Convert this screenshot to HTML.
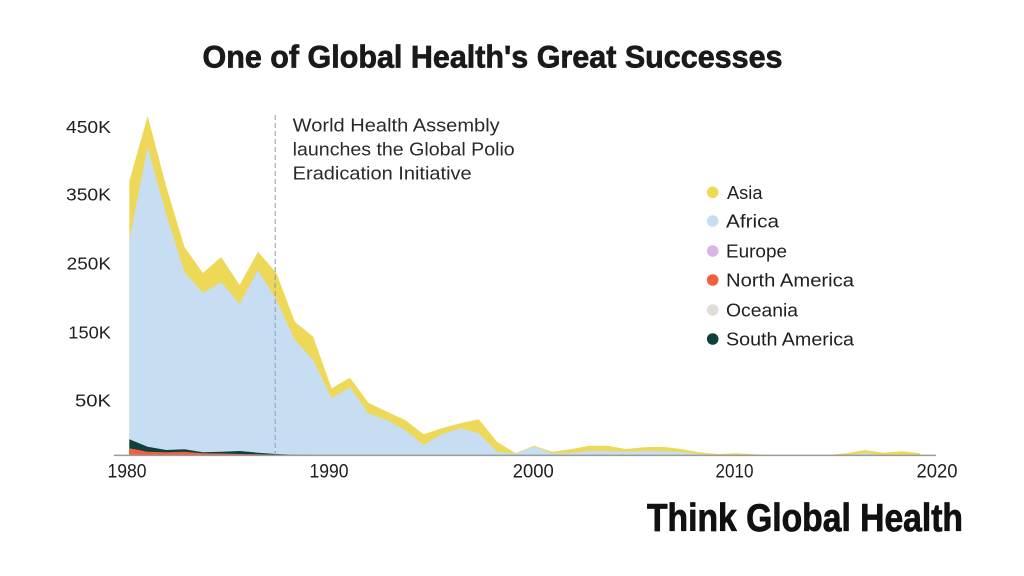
<!DOCTYPE html>
<html>
<head>
<meta charset="utf-8">
<style>
html,body{margin:0;padding:0;background:#fff;}
svg{display:block;}
text{font-family:"Liberation Sans",sans-serif;}
</style>
</head>
<body>
<svg width="1024" height="576" viewBox="0 0 1024 576" xmlns="http://www.w3.org/2000/svg">
<rect width="1024" height="576" fill="#fff"/>

<!-- Title -->
<text x="202.5" y="67.3" font-size="31.5" font-weight="bold" fill="#1a1a1a" stroke="#1a1a1a" stroke-width="0.7" textLength="580" lengthAdjust="spacingAndGlyphs">One of Global Health's Great Successes</text>

<!-- Y labels -->
<g font-size="17.5" fill="#1f1f1f" text-anchor="end">
<text x="111" y="133" textLength="45" lengthAdjust="spacingAndGlyphs">450K</text>
<text x="111" y="200.6" textLength="45" lengthAdjust="spacingAndGlyphs">350K</text>
<text x="111" y="269.6" textLength="44.3" lengthAdjust="spacingAndGlyphs">250K</text>
<text x="111" y="338.6" textLength="42.7" lengthAdjust="spacingAndGlyphs">150K</text>
<text x="111" y="406.3" textLength="36" lengthAdjust="spacingAndGlyphs">50K</text>
</g>

<!-- Asia (total) -->
<path fill="#EDD957" d="M129.3,455 L129.3,181 L147.7,116 L166.1,186 L184.5,247 L202.9,273 L221.2,257 L239.6,285 L258,251.7 L276.4,273 L294.8,321.7 L313.2,336.7 L331.6,388.3 L350,377.7 L368.4,402.7 L386.8,411.7 L405.2,420 L423.5,434.3 L441.9,428.3 L460.3,423.3 L478.7,419.3 L497.1,441.7 L515.5,453.3 L533.9,445.7 L552.3,451.7 L570.7,449.3 L589.1,445.7 L607.5,445.7 L625.8,449 L644.2,447.3 L662.6,446.7 L681,449 L699.4,452.3 L717.8,454 L736.2,453.3 L754.6,454.3 L773,455 L791.4,455 L809.8,455 L828.1,455 L846.5,453.3 L864.9,450 L883.3,452.7 L901.7,451.3 L920.1,453.3 L920.1,455 Z"/>

<!-- Africa -->
<path fill="#C6DDF2" d="M129.3,455 L129.3,240 L147.7,146.7 L166.1,214 L184.5,272 L202.9,293 L221.2,282 L239.6,304 L258,270 L276.4,300 L294.8,340 L313.2,360 L331.6,398.3 L350,387.3 L368.4,413.3 L386.8,420 L405.2,430 L423.5,445 L441.9,434 L460.3,428.3 L478.7,433.3 L497.1,451.7 L515.5,453.5 L533.9,446.7 L552.3,453.3 L570.7,453 L589.1,451 L607.5,451 L625.8,451.7 L644.2,451 L662.6,451.3 L681,452 L699.4,454 L717.8,455 L846.5,455 L864.9,453.3 L883.3,455 L901.7,454.5 L920.1,455 Z"/>

<!-- South America -->
<path fill="#0E403D" d="M129.3,455 L129.3,439.3 L147.7,446.7 L166.1,450 L184.5,449.3 L202.9,452.3 L221.2,451.7 L239.6,451 L258,452.7 L276.4,454 L294.8,454.7 L313.2,455 Z"/>

<!-- North America -->
<path fill="#F0603F" d="M129.3,455 L129.3,448.3 L147.7,451.7 L166.1,452.3 L184.5,451.7 L202.9,453.3 L221.2,453.5 L239.6,454 L258,454.3 L276.4,454.7 L294.8,455 Z"/>

<!-- Axis line -->
<line x1="114" y1="455.4" x2="936" y2="455.4" stroke="#9b9b9b" stroke-width="1.5"/>

<!-- Dashed annotation line -->
<line x1="275.2" y1="115" x2="275.2" y2="455" stroke="#8c9bab" stroke-width="1" stroke-dasharray="5 3"/>

<!-- Annotation -->
<g font-size="18.5" fill="#2a2a2a">
<text x="292.7" y="131.7" textLength="207" lengthAdjust="spacingAndGlyphs">World Health Assembly</text>
<text x="292.7" y="155.7" textLength="222" lengthAdjust="spacingAndGlyphs">launches the Global Polio</text>
<text x="292.7" y="179.3" textLength="179" lengthAdjust="spacingAndGlyphs">Eradication Initiative</text>
</g>

<!-- X labels -->
<g font-size="19.5" fill="#1f1f1f" text-anchor="middle">
<text x="127" y="477.7" textLength="39" lengthAdjust="spacingAndGlyphs">1980</text>
<text x="329" y="477.7" textLength="39" lengthAdjust="spacingAndGlyphs">1990</text>
<text x="533.3" y="477.7" textLength="41" lengthAdjust="spacingAndGlyphs">2000</text>
<text x="734.5" y="477.7" textLength="38" lengthAdjust="spacingAndGlyphs">2010</text>
<text x="937" y="477.7" textLength="41" lengthAdjust="spacingAndGlyphs">2020</text>
</g>

<!-- Legend -->
<g>
<circle cx="712.7" cy="192.3" r="5.8" fill="#EDD957"/>
<circle cx="712.7" cy="221" r="5.8" fill="#C6DDF2"/>
<circle cx="712.7" cy="251" r="5.8" fill="#D9B6E6"/>
<circle cx="712.7" cy="280" r="5.8" fill="#F0603F"/>
<circle cx="712.7" cy="310" r="5.8" fill="#E2DDD7"/>
<circle cx="712.7" cy="339" r="5.8" fill="#0E403D"/>
</g>
<g font-size="18.5" fill="#1f1f1f">
<text x="727" y="199" textLength="35.5" lengthAdjust="spacingAndGlyphs">Asia</text>
<text x="726" y="227.7" textLength="53" lengthAdjust="spacingAndGlyphs">Africa</text>
<text x="726" y="257.7" textLength="61" lengthAdjust="spacingAndGlyphs">Europe</text>
<text x="726" y="286.7" textLength="128" lengthAdjust="spacingAndGlyphs">North America</text>
<text x="726" y="316.7" textLength="72" lengthAdjust="spacingAndGlyphs">Oceania</text>
<text x="726" y="345.7" textLength="128" lengthAdjust="spacingAndGlyphs">South America</text>
</g>

<!-- Logo -->
<text x="647" y="531" font-size="38.5" font-weight="bold" fill="#111" stroke="#111" stroke-width="0.8" textLength="316" lengthAdjust="spacingAndGlyphs">Think Global Health</text>
</svg>
</body>
</html>
